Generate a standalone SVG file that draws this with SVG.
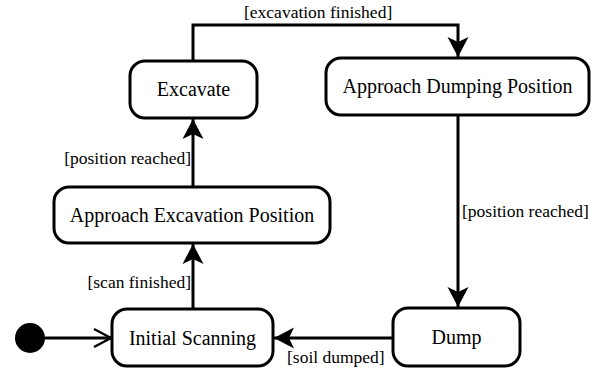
<svg xmlns="http://www.w3.org/2000/svg" width="605" height="369" viewBox="0 0 605 369">
  <style>
    .state { fill: #fff; stroke: #000; stroke-width: 3; }
    .name { font-family: "Liberation Serif", "Times New Roman", serif; font-size: 20px; fill: #000; text-anchor: middle; }
    .guard { font-family: "Liberation Serif", "Times New Roman", serif; font-size: 17.5px; fill: #000; }
    .edge { fill: none; stroke: #000; stroke-width: 3; }
  </style>
  <defs>
    <marker id="filled" markerUnits="userSpaceOnUse" viewBox="-22 -12 24 24" markerWidth="24" markerHeight="24" refX="0" refY="0" orient="auto">
      <path d="M0,0 L-20,-10.5 L-15,0 L-20,10.5 Z" fill="#000"/>
    </marker>
    <marker id="open" markerUnits="userSpaceOnUse" viewBox="-20 -11 22 22" markerWidth="22" markerHeight="22" refX="0" refY="0" orient="auto">
      <path d="M-17,-9 L0,0 L-17,9" fill="none" stroke="#000" stroke-width="2.5"/>
    </marker>
  </defs>

  <g id="connectors">
    <path class="edge" d="M45,338 L111,338" marker-end="url(#open)"/>
    <path class="edge" d="M193,309 L193,244" marker-end="url(#filled)"/>
    <path class="edge" d="M193,187 L193,119" marker-end="url(#filled)"/>
    <path class="edge" d="M193,61 L193,25 L458,25 L458,57" marker-end="url(#filled)"/>
    <path class="edge" d="M458,115 L458,307" marker-end="url(#filled)"/>
    <path class="edge" d="M393,338 L274,338" marker-end="url(#filled)"/>
    <text class="guard" x="244" y="18">[excavation finished]</text>
    <text class="guard" x="191" y="164" text-anchor="end">[position reached]</text>
    <text class="guard" x="191" y="288" text-anchor="end">[scan finished]</text>
    <text class="guard" x="462" y="217">[position reached]</text>
    <text class="guard" x="287" y="363">[soil dumped]</text>
  </g>

  <g id="initial">
    <circle cx="30" cy="338" r="15" fill="#000"/>
  </g>

  <g id="initial-scanning">
    <rect class="state" x="112" y="309" width="161" height="57" rx="15"/>
    <text class="name" x="192.5" y="345">Initial Scanning</text>
  </g>

  <g id="approach-excavation">
    <rect class="state" x="54" y="187" width="276" height="56" rx="15"/>
    <text class="name" x="192" y="222">Approach Excavation Position</text>
  </g>

  <g id="excavate">
    <rect class="state" x="130" y="61" width="127" height="57" rx="15"/>
    <text class="name" x="193.5" y="96">Excavate</text>
  </g>

  <g id="approach-dumping">
    <rect class="state" x="326" y="58" width="263" height="57" rx="15"/>
    <text class="name" x="457.5" y="93">Approach Dumping Position</text>
  </g>

  <g id="dump">
    <rect class="state" x="393" y="308" width="127" height="58" rx="15"/>
    <text class="name" x="456.5" y="344">Dump</text>
  </g>
</svg>
